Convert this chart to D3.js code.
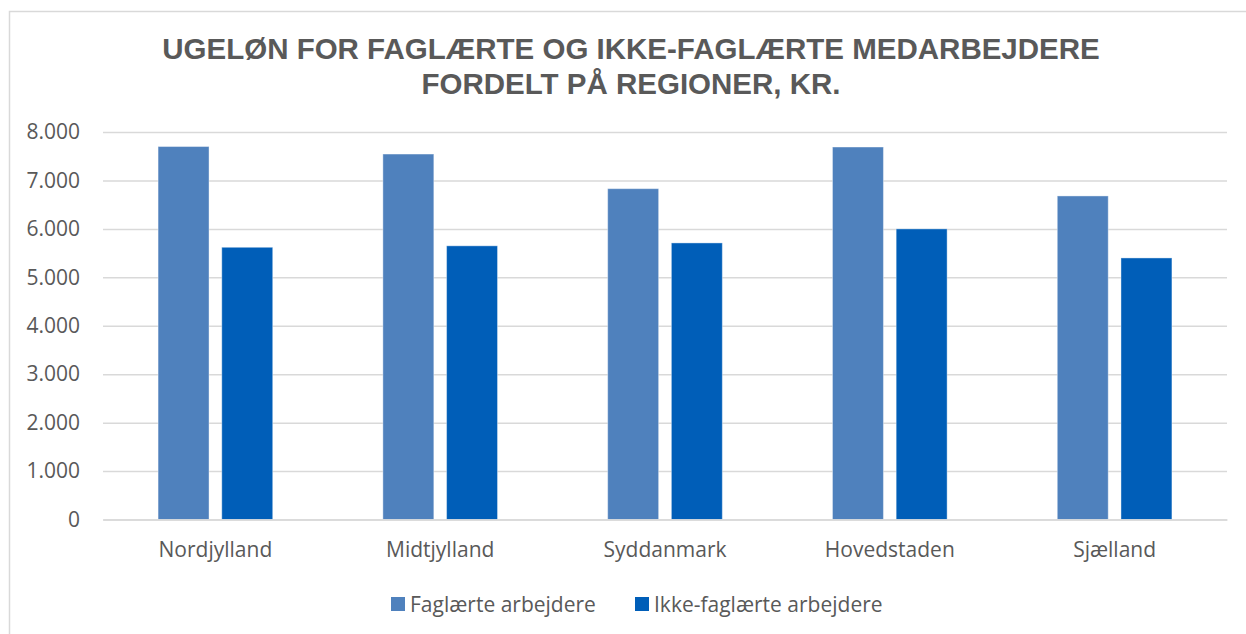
<!DOCTYPE html>
<html>
<head>
<meta charset="utf-8">
<script src="https://cdn.jsdelivr.net/npm/d3@7"></script>
<style>
  html, body { margin: 0; padding: 0; background: #fff; }
  svg { display: block; }
</style>
</head>
<body>
<div id="chart"></div>
<script>
// data
var regions = ["Nordjylland", "Midtjylland", "Syddanmark", "Hovedstaden", "Sjælland"];
var seriesNames = ["Faglærte arbejdere", "Ikke-faglærte arbejdere"];
var faglaerte = [7700, 7545, 6830, 7690, 6680];
var ikkeFaglaerte = [5620, 5650, 5710, 6000, 5400];
var yTicks = [0, 1000, 2000, 3000, 4000, 5000, 6000, 7000, 8000];
var titleLines = ["UGELØN FOR FAGLÆRTE OG IKKE-FAGLÆRTE MEDARBEJDERE", "FORDELT PÅ REGIONER, KR."];

var colors = ["#4F81BD", "#005EB8"];
var textGrey = "#595959";
var gridGrey = "#D9D9D9";
var labelFont = "'Open Sans', 'Noto Sans', sans-serif";
var labelSize = "21px";

var width = 1246, height = 634;
var plot = {left: 103, right: 1227, top: 132, bottom: 519.5};

var svg = d3.select("#chart").append("svg")
	.attr("width", width).attr("height", height);

// chart area border
svg.append("rect").attr("x", 9.5).attr("y", 11.5)
	.attr("width", 1260).attr("height", 660)
	.attr("fill", "#fff").attr("stroke", gridGrey).attr("stroke-width", 1.5);

// title
svg.append("g").selectAll("text").data(titleLines).enter().append("text")
	.attr("x", 631).attr("y", function(d, i) { return 59 + i * 34.5; })
	.attr("text-anchor", "middle")
	.attr("font-family", "'Liberation Sans', Arial, sans-serif")
	.attr("font-weight", "bold").attr("font-size", "29.5px")
	.attr("fill", textGrey)
	.text(function(d) { return d; });

var y = d3.scaleLinear().domain([0, 8000]).range([plot.bottom, plot.top]);
var x0 = d3.scaleBand().domain(regions).range([plot.left, plot.right])
	.paddingInner(0.49).paddingOuter(0.245);
var x1 = d3.scaleBand().domain(seriesNames).range([0, x0.bandwidth()]).paddingInner(0.2);

// gridlines and y labels
var fmt = function(v) { return d3.format(",")(v).replace(/,/g, "."); };
var yAxis = d3.axisLeft(y).tickValues(yTicks).tickSize(-(plot.right - plot.left))
	.tickPadding(23).tickFormat(fmt);
var gy = svg.append("g").attr("transform", "translate(" + plot.left + ",0)").call(yAxis);
gy.select(".domain").remove();
gy.selectAll(".tick line").attr("stroke", gridGrey).attr("stroke-width", 1.5);
gy.selectAll(".tick text").attr("fill", textGrey)
	.attr("font-family", labelFont).attr("font-size", labelSize);

// bars
var rows = regions.map(function(r, i) {
	return {region: r, values: [faglaerte[i], ikkeFaglaerte[i]]};
});
var groups = svg.append("g").selectAll("g").data(rows).enter().append("g")
	.attr("transform", function(d) { return "translate(" + x0(d.region) + ",0)"; });
groups.selectAll("rect").data(function(d) {
		return d.values.map(function(v, j) { return {name: seriesNames[j], value: v, j: j}; });
	}).enter().append("rect")
	.attr("x", function(d) { return x1(d.name); })
	.attr("y", function(d) { return y(d.value); })
	.attr("width", x1.bandwidth())
	.attr("height", function(d) { return y(0) - y(d.value); })
	.attr("fill", function(d) { return colors[d.j]; })
	.attr("stroke", "#fff").attr("stroke-opacity", 0.4).attr("stroke-width", 1);

// x axis
var xAxis = d3.axisBottom(x0).tickSize(0).tickPadding(22.5);
var gx = svg.append("g").attr("transform", "translate(0," + plot.bottom + ")").call(xAxis);
gx.select(".domain").attr("stroke", gridGrey).attr("stroke-width", 1.5);
gx.selectAll(".tick text").attr("fill", textGrey)
	.attr("font-family", labelFont).attr("font-size", labelSize);

// legend
var legendX = [391, 635];
var legend = svg.append("g").selectAll("g").data(seriesNames).enter().append("g")
	.attr("transform", function(d, i) { return "translate(" + legendX[i] + ",597)"; });
legend.append("rect").attr("width", 14).attr("height", 14)
	.attr("fill", function(d, i) { return colors[i]; });
legend.append("text").attr("x", 19).attr("y", 14.5)
	.attr("fill", textGrey).attr("font-family", labelFont).attr("font-size", labelSize)
	.text(function(d) { return d; });
</script>
</body>
</html>
